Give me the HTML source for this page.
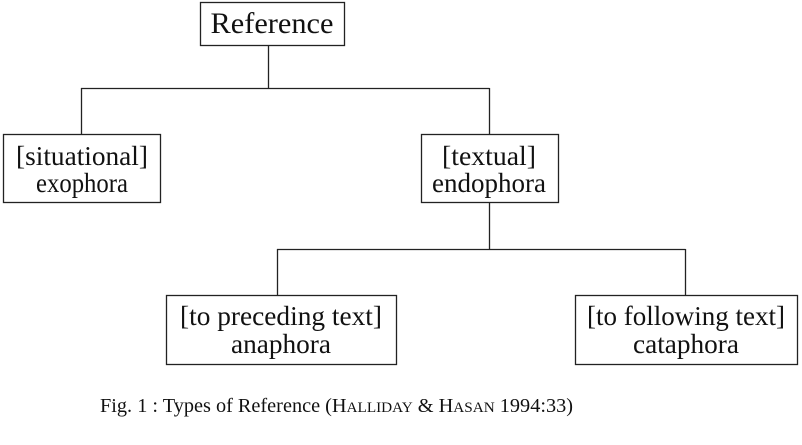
<!DOCTYPE html>
<html><head><meta charset="utf-8"><style>
html,body{margin:0;padding:0;background:#fff;}
svg{display:block;}
text{font-family:"Liberation Serif",serif;fill:#111;}
</style></head><body>
<svg width="802" height="445" viewBox="0 0 802 445">
<g fill="none" stroke="#222" stroke-width="1.3">
<rect x="200.5" y="2.5" width="144" height="43"/>
<line x1="268.5" y1="46" x2="268.5" y2="88.5"/>
<line x1="81" y1="88.5" x2="489.5" y2="88.5"/>
<line x1="81.5" y1="88" x2="81.5" y2="134"/>
<line x1="489.5" y1="88" x2="489.5" y2="134"/>
<rect x="3.5" y="134.5" width="157" height="68"/>
<rect x="421.5" y="134.5" width="137" height="68"/>
<line x1="489.5" y1="203" x2="489.5" y2="249.5"/>
<line x1="277" y1="249.5" x2="685.5" y2="249.5"/>
<line x1="277.5" y1="249" x2="277.5" y2="295"/>
<line x1="685.5" y1="249" x2="685.5" y2="295"/>
<rect x="166.5" y="295.5" width="230" height="69"/>
<rect x="575.5" y="295.5" width="222" height="69"/>
</g>
<g lengthAdjust="spacingAndGlyphs">
<text x="272" y="33" font-size="30" text-anchor="middle" textLength="123" lengthAdjust="spacingAndGlyphs">Reference</text>
<text x="82" y="165" font-size="27" text-anchor="middle" textLength="132" lengthAdjust="spacingAndGlyphs">[situational]</text>
<text x="82" y="192" font-size="27" text-anchor="middle" textLength="92" lengthAdjust="spacingAndGlyphs">exophora</text>
<text x="489" y="165" font-size="27" text-anchor="middle" textLength="94" lengthAdjust="spacingAndGlyphs">[textual]</text>
<text x="489" y="192" font-size="27" text-anchor="middle" textLength="114" lengthAdjust="spacingAndGlyphs">endophora</text>
<text x="281" y="325" font-size="27" text-anchor="middle" textLength="202" lengthAdjust="spacingAndGlyphs">[to preceding text]</text>
<text x="281" y="353" font-size="27" text-anchor="middle" textLength="100" lengthAdjust="spacingAndGlyphs">anaphora</text>
<text x="686" y="325" font-size="27" text-anchor="middle" textLength="198" lengthAdjust="spacingAndGlyphs">[to following text]</text>
<text x="686" y="353" font-size="27" text-anchor="middle" textLength="106" lengthAdjust="spacingAndGlyphs">cataphora</text>
<text x="100" y="412" font-size="20" textLength="473" lengthAdjust="spacingAndGlyphs">Fig. 1 : Types of Reference (H<tspan font-size="15">ALLIDAY</tspan> &amp; H<tspan font-size="15">ASAN</tspan> 1994:33)</text>
</g>
</svg>
</body></html>
